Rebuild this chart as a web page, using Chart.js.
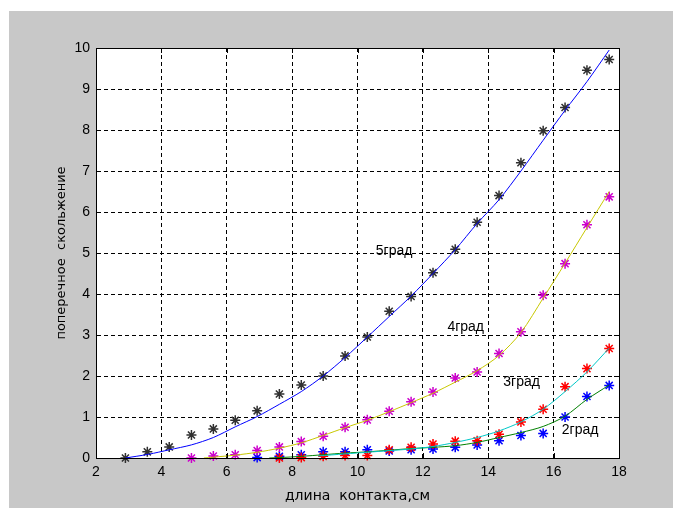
<!DOCTYPE html>
<html>
<head>
  <meta charset="UTF-8">
  <title>поперечное скольжение</title>
  <script src="https://cdn.jsdelivr.net/npm/chart.js"></script>
  <style>
    body {
      margin: 0;
      background: #ffffff;
    }
    #chart {
      display: block;
    }
  </style>
</head>
<body>

  <canvas id="chart" width="673" height="508"></canvas>

  <script>
    // измерения (звёздочки)
    const xPts = [2.9, 3.57, 4.24, 4.92, 5.59, 6.26, 6.93, 7.61, 8.28, 8.95, 9.62, 10.3,
                  10.97, 11.64, 12.31, 12.99, 13.66, 14.33, 15.0, 15.68, 16.35, 17.02, 17.7];
    const pts5 = [0, 0.15, 0.27, 0.56, 0.71, 0.92, 1.15, 1.56, 1.78, 2.0, 2.49, 2.95,
                  3.58, 3.94, 4.52, 5.09, 5.75, 6.4, 7.2, 7.98, 8.55, 9.46, 9.72];
    const pts4 = [0, 0.05, 0.08, 0.18, 0.27, 0.4, 0.53, 0.75, 0.93, 1.14, 1.37, 1.61,
                  1.95, 2.1, 2.55, 3.08, 3.97, 4.74, 5.69, 6.37];          // с x = 4.92
    const pts3 = [0, 0.01, 0.04, 0.06, 0.06, 0.2, 0.26, 0.34, 0.41, 0.42, 0.58, 0.88,
                  1.19, 1.74, 2.18, 2.67];                               // с x = 7.61
    const pts2 = [0.01, 0.04, 0.08, 0.15, 0.15, 0.2, 0.17, 0.2, 0.22, 0.26, 0.32, 0.42,
                  0.55, 0.6, 1.0, 1.5, 1.77];                            // с x = 6.93

    // аппроксимация (линии)
    const fit5x = [2.9, 3.6, 4.24, 4.92, 5.59, 6.26, 6.93, 7.61, 8.28, 8.95, 9.62, 10.3,
                   10.97, 11.64, 12.31, 12.99, 13.66, 14.33, 15.0, 15.68, 16.35, 17.02, 17.7];
    const fit5 = [0, 0.09, 0.2, 0.32, 0.5, 0.76, 1.01, 1.31, 1.62, 2.0, 2.45, 2.95,
                  3.45, 3.95, 4.5, 5.08, 5.72, 6.3, 7.0, 7.75, 8.48, 9.18, 9.95];
    const fit4x = [5.3, 5.59, 6.26, 6.93, 7.61, 8.28, 8.95, 9.62, 10.3, 10.97, 11.64, 12.31,
                   12.99, 13.66, 14.33, 15.0, 15.68, 16.35, 17.02, 17.7];
    const fit4 = [0, 0.02, 0.07, 0.14, 0.24, 0.37, 0.55, 0.74, 0.92, 1.13, 1.35, 1.58,
                  1.85, 2.13, 2.5, 3.06, 3.9, 4.75, 5.62, 6.5];
    const fit3x = [8.8, 9.62, 10.3, 10.97, 11.64, 12.31, 12.99, 13.66, 14.33, 15.0, 15.68,
                   16.35, 17.02, 17.7];
    const fit3 = [0.05, 0.1, 0.14, 0.18, 0.22, 0.28, 0.38, 0.5, 0.66, 0.88, 1.19, 1.62, 2.1, 2.68];
    const fit2x = [7.3, 7.61, 8.28, 8.95, 9.62, 10.3, 10.97, 11.64, 12.31, 12.99, 13.66,
                   14.33, 15.0, 15.68, 16.35, 17.02, 17.7];
    const fit2 = [0, 0.01, 0.04, 0.08, 0.12, 0.15, 0.19, 0.23, 0.26, 0.3, 0.38, 0.5, 0.62,
                  0.77, 1.02, 1.43, 1.78];

    const curveNames = ['5град', '4град', '3град', '2град'];
    const namePos = [[10.56, 5.04], [12.75, 3.2], [14.46, 1.84], [16.25, 0.69]];

    const xTicks = [2, 4, 6, 8, 10, 12, 14, 16, 18];
    const yTicks = [0, 1, 2, 3, 4, 5, 6, 7, 8, 9, 10];

    function pairs(xs, ys, start) {
      return ys.map((v, i) => ({ x: xs[i + start], y: v }));
    }

    function stars(data, color) {
      return {
        data: data,
        showLine: false,
        pointStyle: 'star',
        pointRadius: 5,
        pointBorderWidth: 1.5,
        pointBorderColor: color,
        pointBackgroundColor: color,
        clip: false
      };
    }

    function curve(data, color) {
      return {
        data: data,
        borderColor: color,
        borderWidth: 1,
        pointRadius: 0,
        tension: 0.3,
        fill: false
      };
    }

    const FONT = 'Liberation Sans, Arial, sans-serif';
    const TITLE_FONT = 'DejaVu Sans, sans-serif';

    // серый фон окна
    const background = {
      id: 'background',
      beforeDraw(chart) {
        const ctx = chart.ctx;
        ctx.save();
        ctx.fillStyle = '#ffffff';
        ctx.fillRect(0, 0, chart.width, chart.height);
        ctx.fillStyle = '#c8c8c8';
        ctx.fillRect(9, 11, chart.width - 9, chart.height - 11);
        const a = chart.chartArea;
        ctx.fillStyle = '#ffffff';
        ctx.fillRect(a.left, a.top, a.right - a.left, a.bottom - a.top);
        ctx.restore();
      }
    };

    // рамка с внутренними засечками, подписи кривых
    const frame = {
      id: 'frame',
      afterDatasetsDraw(chart) {
        const ctx = chart.ctx;
        const a = chart.chartArea;
        const sx = chart.scales.x, sy = chart.scales.y;
        ctx.save();
        ctx.strokeStyle = '#000';
        ctx.lineWidth = 1;
        ctx.beginPath();
        xTicks.forEach(v => {
          const px = Math.round(sx.getPixelForValue(v)) + 0.5;
          ctx.moveTo(px, a.top); ctx.lineTo(px, a.top + 5);
          ctx.moveTo(px, a.bottom); ctx.lineTo(px, a.bottom - 5);
        });
        yTicks.forEach(v => {
          const py = Math.round(sy.getPixelForValue(v)) + 0.5;
          ctx.moveTo(a.left, py); ctx.lineTo(a.left + 5, py);
          ctx.moveTo(a.right, py); ctx.lineTo(a.right - 5, py);
        });
        ctx.stroke();
        ctx.strokeRect(Math.round(a.left) + 0.5, Math.round(a.top) + 0.5,
                       Math.round(a.right - a.left), Math.round(a.bottom - a.top));

        ctx.fillStyle = '#000';
        ctx.font = '14px ' + FONT;
        ctx.textAlign = 'left';
        ctx.textBaseline = 'middle';
        curveNames.forEach((name, i) => {
          ctx.fillText(name, sx.getPixelForValue(namePos[i][0]), sy.getPixelForValue(namePos[i][1]));
        });
        ctx.restore();
      }
    };

    new Chart(document.getElementById('chart'), {
      type: 'line',
      data: {
        datasets: [
          curve(pairs(fit5x, fit5, 0), '#0000ff'),
          curve(pairs(fit4x, fit4, 0), '#c8c800'),
          curve(pairs(fit3x, fit3, 0), '#00c8c8'),
          curve(pairs(fit2x, fit2, 0), '#008000'),
          stars(pairs(xPts, pts5, 0), '#303030'),
          stars(pairs(xPts, pts4, 3), '#cc00cc'),
          stars(pairs(xPts, pts3, 7), '#ff0000'),
          stars(pairs(xPts, pts2, 6), '#0000ff')
        ]
      },
      options: {
        responsive: false,
        animation: false,
        devicePixelRatio: 1,
        layout: {
          padding: { left: 0, top: 48, right: 54, bottom: 0 }
        },
        plugins: {
          legend: { display: false },
          tooltip: { enabled: false }
        },
        scales: {
          x: {
            type: 'linear',
            min: 2,
            max: 18,
            afterFit(scale) { scale.height = 50; },
            afterBuildTicks(scale) { scale.ticks = xTicks.map(v => ({ value: v })); },
            grid: {
              color: '#000',
              lineWidth: 1,
              drawTicks: false
            },
            border: { display: true, color: '#000', dash: [4, 3] },
            ticks: {
              padding: 6,
              color: '#000',
              font: { family: FONT, size: 14 }
            },
            title: {
              display: true,
              text: 'длина  контакта,см',
              color: '#000',
              font: { family: TITLE_FONT, size: 14 },
              padding: { top: 0, bottom: 3 }
            }
          },
          y: {
            type: 'linear',
            min: 0,
            max: 10,
            afterFit(scale) { scale.width = 96; },
            afterBuildTicks(scale) { scale.ticks = yTicks.map(v => ({ value: v })); },
            grid: {
              color: '#000',
              lineWidth: 1,
              drawTicks: false
            },
            border: { display: true, color: '#000', dash: [4, 3] },
            ticks: {
              padding: 6,
              color: '#000',
              font: { family: FONT, size: 14 }
            },
            title: {
              display: true,
              text: 'поперечное  скольжение',
              color: '#000',
              font: { family: TITLE_FONT, size: 13 },
              padding: { top: 54, bottom: 0 }
            }
          }
        }
      },
      plugins: [background, frame]
    });
  </script>

</body>
</html>
